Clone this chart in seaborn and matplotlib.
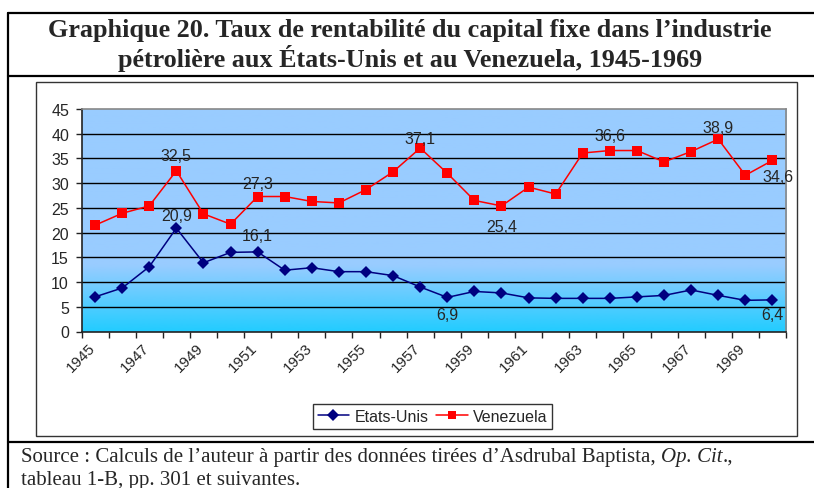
import numpy as np
import pandas as pd
import seaborn as sns
import matplotlib.pyplot as plt
from matplotlib.lines import Line2D
from matplotlib.patches import Rectangle
from matplotlib.colors import LinearSegmentedColormap
import matplotlib.transforms as mtransforms

years = list(range(1945, 1971))
etats_unis = [7.0, 8.8, 13.1, 20.9, 13.9, 16.0, 16.1, 12.4, 12.9, 12.1, 12.1, 11.3, 9.0,
              6.9, 8.1, 7.8, 6.8, 6.7, 6.7, 6.7, 7.0, 7.3, 8.4, 7.3, 6.3, 6.4]
venezuela = [21.5, 23.9, 25.4, 32.5, 23.8, 21.7, 27.3, 27.3, 26.3, 26.0, 28.7, 32.3, 37.1,
             32.0, 26.5, 25.4, 29.2, 27.8, 36.1, 36.6, 36.6, 34.3, 36.4, 38.9, 31.6, 34.6]
year_labels = [str(y) for y in range(1945, 1970, 2)]

# labelled points: (year index, pixel offset)
labels_us = [(3, (0, 13)), (6, (0, 16)), (13, (0, -17)), (25, (0, -15))]
labels_ve = [(3, (0, 15)), (6, (0, 13)), (12, (0, 10)), (15, (0, -21)),
             (19, (0, 15)), (23, (0, 12)), (25, (6, -16))]

df = pd.DataFrame({
    "idx": list(range(len(years))) * 2,
    "valeur": etats_unis + venezuela,
    "serie": ["Etats-Unis"] * len(years) + ["Venezuela"] * len(years),
})

W, H = 814, 489
sns.set_style("white")
plt.rcParams["font.family"] = ["Liberation Sans", "DejaVu Sans"]

fig = plt.figure(figsize=(W / 100, H / 100), dpi=100)
ax = fig.add_axes([81.5 / W, 1 - 332.5 / H, (786 - 81.5) / W, (332.5 - 110) / H])

# gradient background
cmap = LinearSegmentedColormap.from_list(
    "bg", [(0.0, "#22ccff"), (0.3, "#99ccff"), (1.0, "#99ccff")])
grad = np.linspace(0, 1, 256).reshape(-1, 1)
ax.imshow(grad, extent=[-0.5, 25.5, 0, 45], origin="lower", aspect="auto",
          cmap=cmap, zorder=0)

for yv in range(5, 45, 5):
    ax.axhline(yv, color="black", lw=1.0, zorder=1)

palette = {"Etats-Unis": "#000080", "Venezuela": "#ff0000"}
sns.lineplot(data=df, x="idx", y="valeur", hue="serie", style="serie",
             markers={"Etats-Unis": "D", "Venezuela": "s"}, dashes=False,
             palette=palette, markersize=6.5, markeredgewidth=0, lw=1.1,
             ax=ax, legend=False, zorder=3)

for i, off in labels_us:
    ax.annotate(f"{etats_unis[i]:.1f}".replace(".", ","), (i, etats_unis[i]),
                xytext=off, textcoords="offset pixels", ha="center", va="center",
                fontsize=11.5, zorder=4)
for i, off in labels_ve:
    ax.annotate(f"{venezuela[i]:.1f}".replace(".", ","), (i, venezuela[i]),
                xytext=off, textcoords="offset pixels", ha="center", va="center",
                fontsize=11.5, zorder=4)

ax.set_xlim(-0.5, 25.5)
ax.set_ylim(0, 45)
ax.set_yticks(range(0, 50, 5))
ax.tick_params(axis="y", labelsize=11.5, length=4, width=1, pad=5, left=True,
               color="#222222")
ax.set_xticks(np.arange(-0.5, 26, 1))
ax.set_xticklabels([])
ax.tick_params(axis="x", which="major", length=4, width=1, bottom=True,
               color="#222222")
ax.set_xticks(np.arange(0, 26, 2), minor=True)
ax.set_xticklabels(year_labels, minor=True, rotation=45, ha="right",
                   rotation_mode="anchor", fontsize=11)
ax.tick_params(axis="x", which="minor", length=0, pad=6)
shift = mtransforms.ScaledTranslation(-7 / 100, 0, fig.dpi_scale_trans)
for lab in ax.get_xticklabels(minor=True):
    lab.set_transform(lab.get_transform() + shift)
ax.set_xlabel("")
ax.set_ylabel("")
for side in ["left", "bottom"]:
    ax.spines[side].set_color("#222222")
    ax.spines[side].set_linewidth(1.2)
for side in ["top", "right"]:
    ax.spines[side].set_color("#888888")
    ax.spines[side].set_linewidth(1.2)

handles = [
    Line2D([], [], color="#000080", marker="D", markersize=6, lw=1.1, markeredgewidth=0),
    Line2D([], [], color="#ff0000", marker="s", markersize=6, lw=1.1, markeredgewidth=0),
]
leg = fig.legend(handles, ["Etats-Unis", "Venezuela"], ncol=2, loc="center",
                 bbox_to_anchor=(432.5 / W, 1 - 417.5 / H), frameon=True,
                 fancybox=False, fontsize=11.5, handlelength=2.0, handletextpad=0.3,
                 columnspacing=0.5, borderpad=0.3)
leg.get_frame().set_edgecolor("black")
leg.get_frame().set_linewidth(1.0)


def fx(x):
    return x / W


def fy(y):
    return 1 - y / H


# outer document frame
fig.add_artist(Line2D([fx(8), fx(8)], [fy(14), fy(489)], color="black", lw=1.6))
fig.add_artist(Line2D([fx(8), fx(814)], [fy(14), fy(14)], color="black", lw=1.6))
fig.add_artist(Line2D([fx(8), fx(814)], [fy(77), fy(77)], color="black", lw=1.6))
fig.add_artist(Line2D([fx(8), fx(814)], [fy(443), fy(443)], color="black", lw=1.6))
fig.add_artist(Rectangle((fx(36), fy(437)), fx(797 - 36), (437 - 83) / H,
                         fill=False, edgecolor="#333333", lw=1.0))

serif = ["Liberation Serif", "DejaVu Serif"]
fig.text(fx(410), fy(31), "Graphique 20. Taux de rentabilité du capital fixe dans l’industrie",
         ha="center", va="center", fontsize=18.8, fontweight="bold", family=serif)
fig.text(fx(410), fy(59), "pétrolière aux États-Unis et au Venezuela, 1945-1969",
         ha="center", va="center", fontsize=18.8, fontweight="bold", family=serif)

# source note with italic part
fig.canvas.draw()
renderer = fig.canvas.get_renderer()
x0 = fx(21)
parts = [("Source : Calculs de l’auteur à partir des données tirées d’Asdrubal Baptista, ", "normal"),
         ("Op. Cit", "italic"), (".,", "normal")]
for txt, style in parts:
    t = fig.text(x0, fy(458), txt, ha="left", va="center", fontsize=15,
                 family=serif, style=style)
    bb = t.get_window_extent(renderer)
    x0 += bb.width / W
fig.text(fx(21), fy(481), "tableau 1-B, pp. 301 et suivantes.", ha="left", va="center",
         fontsize=15, family=serif)

fig.savefig("out.png", dpi=100)
